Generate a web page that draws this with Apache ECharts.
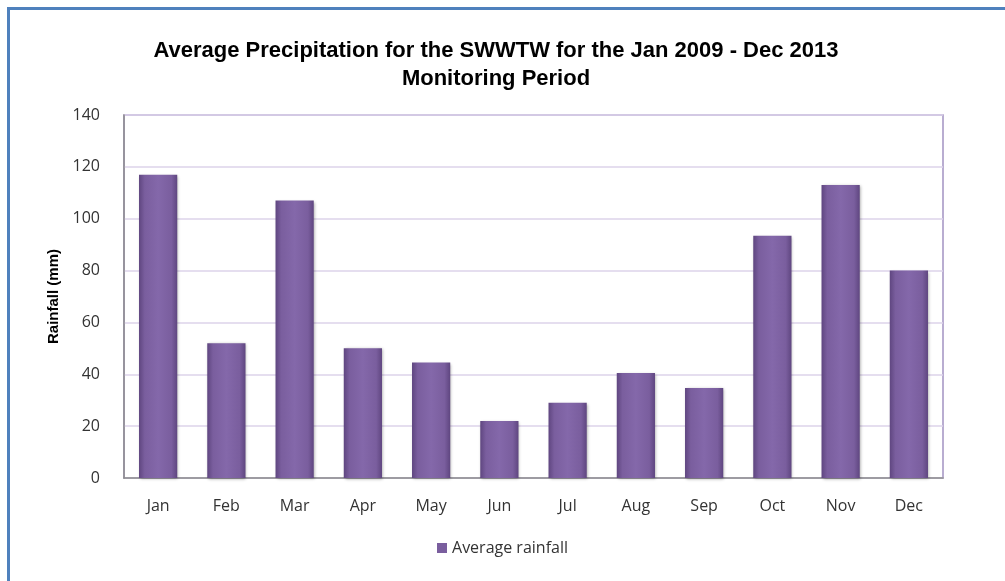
<!DOCTYPE html>
<html>
<head>
<meta charset="utf-8">
<script src="https://cdn.jsdelivr.net/npm/echarts@6/dist/echarts.min.js"></script>
<style>html,body{margin:0;padding:0;background:#fff;}#c{width:1005px;height:581px;}</style>
</head>
<body>
<div id="c"></div>
<script>
var categories = ['Jan','Feb','Mar','Apr','May','Jun','Jul','Aug','Sep','Oct','Nov','Dec'];
var rainfall = [117, 52, 107, 50, 44.5, 22, 29, 40.5, 34.7, 93.4, 113, 80];
var seriesName = 'Average rainfall';

var chart = echarts.init(document.getElementById('c'));
var barGrad = new echarts.graphic.LinearGradient(0, 0, 1, 0, [
  {offset: 0, color: '#5f4680'},
  {offset: 0.15, color: '#7a5e9e'},
  {offset: 0.5, color: '#8468aa'},
  {offset: 0.85, color: '#7a5e9e'},
  {offset: 1, color: '#5f4680'}
]);
chart.setOption({
  animation: false,
  graphic: [{
    type: 'rect', left: 6, top: 6,
    shape: {x: 0, y: 0, width: 1200, height: 800},
    style: {fill: 'none', stroke: '#4f81bd', lineWidth: 3}
  }],
  title: {
    text: 'Average Precipitation for the SWWTW for the Jan 2009 - Dec 2013\nMonitoring Period',
    left: 491, top: 32, textAlign: 'center',
    textStyle: {fontFamily: 'Liberation Sans', fontWeight: 'bold', fontSize: 22, color: '#000', lineHeight: 28}
  },
  legend: {
    bottom: 20, left: 'center',
    itemWidth: 10, itemHeight: 10, itemGap: 4,
    icon: 'rect',
    textStyle: {fontFamily: 'Open Sans', fontSize: 16, color: '#333'},
    data: [{name: seriesName, itemStyle: {color: '#7a5e9e'}}]
  },
  grid: {left: 124, right: 62, top: 115, bottom: 103, show: true, borderColor: '#a392c2', borderWidth: 1.5},
  xAxis: {
    type: 'category', data: categories,
    axisLine: {lineStyle: {color: '#8c8c8c', width: 1.5}},
    axisTick: {show: false},
    axisLabel: {fontFamily: 'Open Sans', fontSize: 16, color: '#333', margin: 20}
  },
  yAxis: {
    type: 'value', min: 0, max: 140, interval: 20,
    name: 'Rainfall (mm)', nameLocation: 'middle', nameGap: 54,
    nameTextStyle: {fontFamily: 'Liberation Sans', fontWeight: 'bold', fontSize: 15, color: '#000'},
    axisLine: {show: true, lineStyle: {color: '#8c8c8c', width: 1.5}},
    axisTick: {show: false},
    splitLine: {lineStyle: {color: '#ddd3ea', width: 1.5}},
    axisLabel: {fontFamily: 'Open Sans', fontSize: 16, color: '#333', margin: 24}
  },
  series: [{
    name: seriesName, type: 'bar', data: rainfall, barWidth: '56%',
    itemStyle: {color: barGrad,
      shadowColor: 'rgba(0,0,0,0.35)', shadowBlur: 3, shadowOffsetX: 1, shadowOffsetY: 1}
  }]
});
</script>
</body>
</html>
